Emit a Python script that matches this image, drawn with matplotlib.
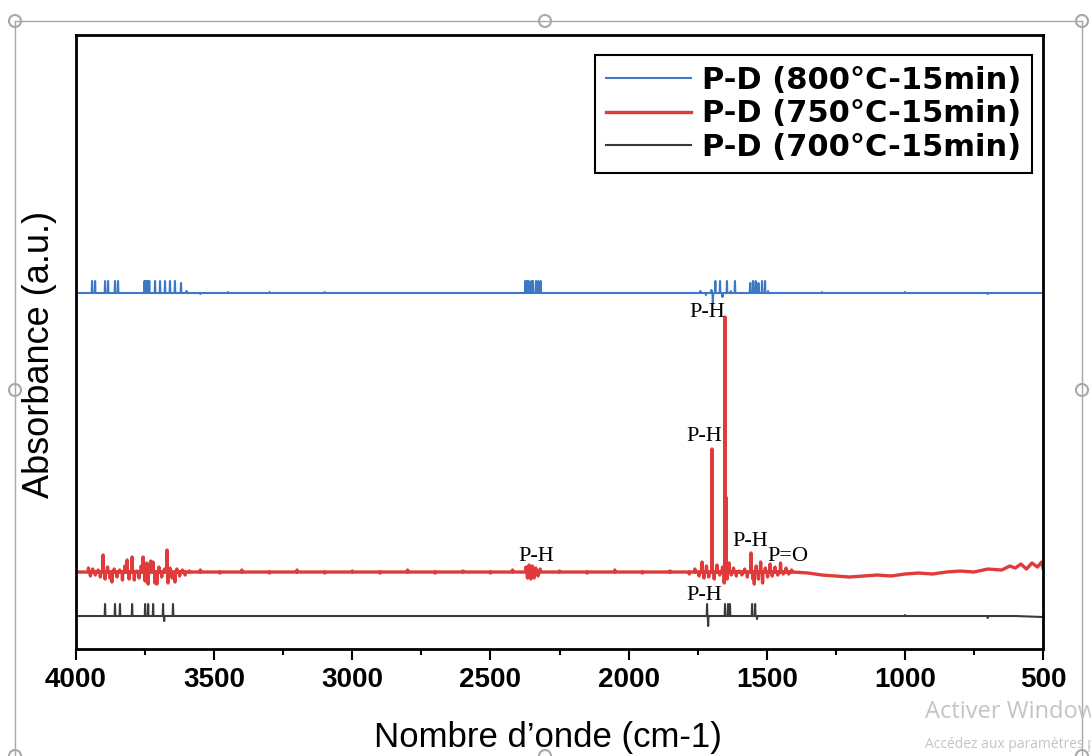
import numpy as np
import matplotlib
matplotlib.use("Agg")
import matplotlib.pyplot as plt
from matplotlib.lines import Line2D
from matplotlib.patches import Circle
from matplotlib.ticker import MultipleLocator

# --- data (absorbance in arbitrary units) ---
labels = ["P-D (800°C-15min)", "P-D (750°C-15min)", "P-D (700°C-15min)"]

# 800 °C (blue)
blue_knot_wn = [4000, 500]
blue_knot_abs = [0.356, 0.356]
blue_foot = 0.356
blue_peak_wn = [3942, 3931, 3895, 3884, 3859, 3848, 3752, 3748, 3744, 3740, 3735,
                3714, 3696, 3678, 3660, 3642, 3620, 3600, 3550, 3450, 3300, 3100,
                2374, 2368, 2362, 2352, 2346, 2335, 2327, 2318,
                1740, 1720, 1700, 1695, 1686, 1669, 1660, 1644, 1630, 1615,
                1560, 1550, 1540, 1530, 1517, 1506, 1495, 1300, 1000, 700]
blue_peak_abs = [0.368, 0.368, 0.368, 0.368, 0.368, 0.368, 0.368, 0.368, 0.368, 0.368, 0.368,
                 0.368, 0.368, 0.368, 0.368, 0.368, 0.366, 0.358, 0.355, 0.357, 0.357, 0.357,
                 0.368, 0.368, 0.368, 0.368, 0.368, 0.368, 0.368, 0.368,
                 0.358, 0.354, 0.359, 0.346, 0.368, 0.368, 0.352, 0.368, 0.358, 0.368,
                 0.366, 0.368, 0.368, 0.366, 0.368, 0.368, 0.358, 0.357, 0.357, 0.355]

# 750 °C (red)
red_knot_wn = [4000, 3965, 1405, 1350, 1300, 1250, 1200, 1150, 1100, 1050, 1000, 950,
               900, 850, 800, 750, 700, 650, 620, 600, 580, 560, 540, 520, 505, 500]
red_knot_abs = [0.077, 0.077, 0.077, 0.076, 0.074, 0.073, 0.072, 0.073, 0.074, 0.073, 0.075, 0.076,
                0.075, 0.077, 0.078, 0.077, 0.080, 0.079, 0.083, 0.081, 0.085, 0.080, 0.086, 0.082, 0.087, 0.081]
red_foot = 0.077
red_peak_wn = [3955, 3948, 3940, 3930, 3920, 3912, 3902, 3895, 3886, 3878, 3870, 3862,
               3852, 3842, 3832, 3823, 3815, 3808, 3797, 3789, 3780, 3772, 3764, 3757,
               3750, 3744, 3739, 3730, 3721, 3714, 3707, 3700, 3690, 3680, 3671, 3667,
               3660, 3652, 3642, 3635, 3625, 3615, 3605, 3590,
               3550, 3480, 3400, 3300, 3200, 3100, 3000, 2900, 2800, 2700, 2600, 2500, 2420,
               2372, 2366, 2360, 2354, 2348, 2342, 2336, 2328, 2320,
               2250, 2150, 2050, 1950, 1850, 1780,
               1760, 1745, 1734, 1727, 1718, 1710, 1698, 1690, 1680, 1670, 1660, 1654,
               1651, 1648, 1643, 1636, 1628, 1620, 1610, 1600, 1590, 1580, 1570, 1557,
               1550, 1545, 1538, 1530, 1522, 1515, 1505, 1497, 1488, 1480, 1470, 1460,
               1450, 1440, 1430, 1420, 1410]
red_peak_abs = [0.081, 0.073, 0.080, 0.074, 0.079, 0.072, 0.094, 0.070, 0.082, 0.071, 0.067, 0.080,
                0.072, 0.079, 0.069, 0.083, 0.089, 0.070, 0.092, 0.069, 0.078, 0.071, 0.083, 0.092,
                0.068, 0.086, 0.065, 0.088, 0.087, 0.066, 0.065, 0.082, 0.072, 0.080, 0.099, 0.066,
                0.081, 0.071, 0.067, 0.080, 0.073, 0.079, 0.074, 0.078,
                0.079, 0.076, 0.079, 0.076, 0.079, 0.076, 0.078, 0.076, 0.079, 0.076, 0.078, 0.076, 0.079,
                0.082, 0.071, 0.084, 0.070, 0.083, 0.071, 0.081, 0.073, 0.080,
                0.078, 0.076, 0.079, 0.076, 0.078, 0.075,
                0.080, 0.073, 0.087, 0.071, 0.083, 0.072, 0.200, 0.070, 0.084, 0.074, 0.082, 0.066,
                0.332, 0.152, 0.070, 0.086, 0.074, 0.081, 0.073, 0.078, 0.074, 0.080, 0.072, 0.096,
                0.070, 0.065, 0.083, 0.070, 0.087, 0.066, 0.081, 0.072, 0.085, 0.073, 0.082, 0.074,
                0.086, 0.075, 0.081, 0.075, 0.079]

# 700 °C (black)
black_knot_wn = [4000, 500]
black_knot_abs = [0.033, 0.032]
black_foot = 0.033
black_peak_wn = [3895, 3859, 3841, 3797, 3750, 3739, 3721, 3685, 3681, 3649,
                 1716, 1712, 1651, 1640, 1633, 1553, 1542, 1535, 1000, 700, 600]
black_peak_abs = [0.045, 0.045, 0.045, 0.045, 0.045, 0.045, 0.045, 0.045, 0.028, 0.045,
                  0.045, 0.023, 0.045, 0.045, 0.045, 0.045, 0.045, 0.030, 0.034, 0.031, 0.033]

# band labels: (text, wavenumber, absorbance)
band_text = ["P-H", "P-H", "P-H", "P-H", "P=O", "P-H"]
band_wn = [1715, 1725, 2333, 1560, 1425, 1725]
band_abs = [0.337, 0.213, 0.093, 0.108, 0.093, 0.054]


def trace(knot_wn, knot_abs, peak_wn, peak_abs, foot, half=1.3):
    wn = list(knot_wn)
    ab = list(knot_abs)
    for w, a in zip(peak_wn, peak_abs):
        wn += [w + half, w, w - half]
        ab += [foot, a, foot]
    order = np.argsort(wn, kind="stable")[::-1]
    return np.array(wn)[order], np.array(ab)[order]


fig = plt.figure(figsize=(10.91, 7.56), dpi=100)
ax = fig.add_axes([0.0697, 0.1415, 0.8863, 0.8122])

x, y = trace(blue_knot_wn, blue_knot_abs, blue_peak_wn, blue_peak_abs, blue_foot)
ax.plot(x, y, color="#3b78c6", lw=1.5, label=labels[0])
x, y = trace(red_knot_wn, red_knot_abs, red_peak_wn, red_peak_abs, red_foot)
ax.plot(x, y, color="#e03a3a", lw=2.4, label=labels[1])
x, y = trace(black_knot_wn, black_knot_abs, black_peak_wn, black_peak_abs, black_foot)
ax.plot(x, y, color="#3a3a3a", lw=1.5, label=labels[2])

for t, w, a in zip(band_text, band_wn, band_abs):
    ax.text(w, a, t, ha="center", va="center", fontsize=16,
            family="Liberation Serif", color="black")

ax.set_xlim(4000, 500)
ax.set_ylim(0, 0.614)
ax.xaxis.set_major_locator(MultipleLocator(500))
ax.xaxis.set_minor_locator(MultipleLocator(250))
ax.tick_params(axis="x", which="major", direction="out", length=8, width=1.5, pad=5)
ax.tick_params(axis="x", which="minor", direction="out", length=4, width=1.5)
ax.set_yticks([])
for s in ax.spines.values():
    s.set_linewidth(2)
for lab in ax.get_xticklabels():
    lab.set_fontfamily("Liberation Sans")
    lab.set_fontweight("bold")
    lab.set_fontsize(20)

ax.set_xlabel("Nombre d’onde (cm-1)", fontsize=25, family="Liberation Sans")
ax.set_ylabel("Absorbance (a.u.)", fontsize=26, family="Liberation Sans")
ax.xaxis.set_label_coords(0.488, -0.118)
ax.yaxis.set_label_coords(-0.020, 0.48)

leg = ax.legend(loc="upper right", bbox_to_anchor=(0.9886, 0.9674), borderaxespad=0,
                fancybox=False, framealpha=1, edgecolor="black", handlelength=2.8,
                handletextpad=0.35, borderpad=0.35, labelspacing=0.15,
                prop={"family": "DejaVu Sans", "weight": "bold", "size": 22})
leg.get_frame().set_linewidth(1.5)

# selection frame and handles around the picture
gray = "#a8a8a8"
W, H = 1091, 756
def fx(p):
    return p / W
def fy(p):
    return 1 - p / H
fig.add_artist(Line2D([fx(15), fx(1082)], [fy(21), fy(21)], color=gray, lw=1, transform=fig.transFigure))
fig.add_artist(Line2D([fx(15), fx(15)], [fy(21), fy(760)], color=gray, lw=1, transform=fig.transFigure))
fig.add_artist(Line2D([fx(1082), fx(1082)], [fy(21), fy(760)], color=gray, lw=1, transform=fig.transFigure))
for px, py in [(15, 21), (545, 21), (1082, 21), (15, 390), (1082, 390), (15, 756), (545, 756), (1082, 756)]:
    fig.add_artist(Circle((px, H - py), 6, facecolor="white", edgecolor=gray, lw=1.5,
                          transform=None))

# faint watermark, cut off at the right edge as in the original screenshot
fig.text(fx(925), fy(712), "Activer Windows", fontsize=17, color="#c4c4c4",
         family="Open Sans", ha="left", va="center")
fig.text(fx(925), fy(745), "Accédez aux paramètres pour activer Windows.", fontsize=10,
         color="#c4c4c4", family="Open Sans", ha="left", va="center")

fig.savefig("out.png", dpi=100)
